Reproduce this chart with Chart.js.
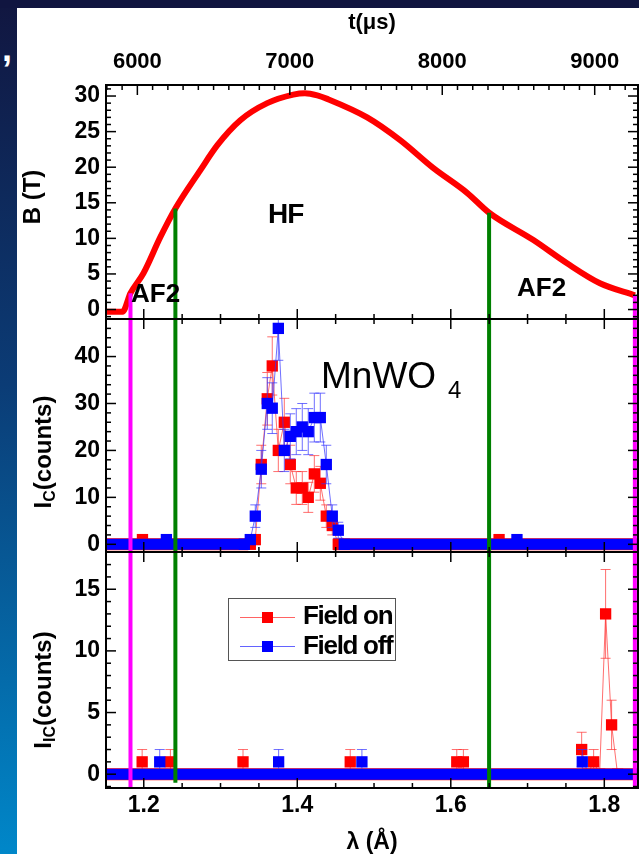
<!DOCTYPE html>
<html lang="en">
<head>
<meta charset="UTF-8">
<title>MnWO4 pulsed field diffraction</title>
<script src="https://cdn.jsdelivr.net/npm/chart.js"></script>
<style>
  html, body { margin: 0; padding: 0; }
  body {
    width: 639px; height: 854px; position: relative; overflow: hidden;
    background: linear-gradient(to bottom, #111640 0%, #0b3c76 45%, #0087c9 100%);
    font-family: 'Liberation Sans', Arial, sans-serif;
  }
  #topband { position: absolute; left: 0; top: 0; width: 639px; height: 8px; background: #101540; }
  #sheet { position: absolute; left: 17px; top: 8px; right: 0; bottom: 0; background: #fff; }
  canvas { position: absolute; left: 0; }
  .lbl { position: absolute; line-height: 1; white-space: nowrap; color: #000; }
  .ytitle {
    position: absolute; font-weight: bold; font-size: 24px; line-height: 1; white-space: nowrap;
    transform: translate(-50%, -50%) rotate(-90deg);
  }
  .ytitle sub { font-size: 16px; vertical-align: -4px; }
  .swatch { position: absolute; }
</style>
</head>
<body>
<div id="topband"></div>
<div id="sheet"></div>
<div class="lbl" style="left:2px;top:31px;font-size:36px;font-weight:bold;color:#fff">,</div>

<canvas id="cB" width="639" height="319" style="top:0"></canvas>
<canvas id="cIc" width="639" height="233" style="top:319px"></canvas>
<canvas id="cIic" width="639" height="302" style="top:552px"></canvas>

<div class="ytitle" style="left:32px;top:197px">B (T)</div>
<div class="ytitle" style="left:44px;top:452px">I<sub>C</sub>(counts)</div>
<div class="ytitle" style="left:44px;top:690px">I<sub>IC</sub>(counts)</div>

<div class="lbl" style="left:268px;top:200px;font-size:28px;font-weight:bold;letter-spacing:-1px">HF</div>
<div class="lbl" style="left:131px;top:280px;font-size:26px;font-weight:bold">AF2</div>
<div class="lbl" style="left:517px;top:274px;font-size:26px;font-weight:bold">AF2</div>
<div class="lbl" style="left:321px;top:357px;font-size:37px">MnWO<span style="font-size:24px;position:relative;top:10px;margin-left:12px">4</span></div>

<div class="swatch" style="left:228px;top:598px;width:166px;height:61px;border:1px solid #555"></div>
<div class="swatch" style="left:240px;top:617px;width:55px;height:1px;background:rgba(255,60,60,0.8)"></div>
<div class="swatch" style="left:262px;top:612px;width:11px;height:11px;background:#ff0000"></div>
<div class="swatch" style="left:240px;top:646px;width:55px;height:1px;background:rgba(60,60,255,0.8)"></div>
<div class="swatch" style="left:262px;top:641px;width:11px;height:11px;background:#0000ff"></div>
<div class="lbl" style="left:303px;top:602px;font-size:26px;font-weight:bold;letter-spacing:-1.3px">Field on</div>
<div class="lbl" style="left:303px;top:632px;font-size:26px;font-weight:bold;letter-spacing:-1.3px">Field off</div>

<script>
// shared wavelength axis (Å) and time-of-flight conversion
const lambdaMin = 1.1508, lambdaMax = 1.8439;
const tPerLambda = 5035; // t(us) = lambda * tPerLambda

const bRange = [-1.33, 31.55];
const icRange = [-1.64, 48.0];
const iicRange = [-1.12, 18.02];

// tick labels
const lambdaTicks = [1.2, 1.4, 1.6, 1.8];
const tTicks = [6000, 7000, 8000, 9000];
const bTicks = [0, 5, 10, 15, 20, 25, 30];
const icTicks = [0, 10, 20, 30, 40];
const iicTicks = [0, 5, 10, 15];

// phase boundaries (magenta / green lines)
const phaseLambda = [1.1827, 1.2412, 1.6499, 1.8398];
const phaseColor = ['#ff00ff', '#008000', '#008000', '#ff00ff'];
const phaseTopB = [2.3, 14.2, 13.6, 2.0];
const phaseEndIic = [-1.3, -0.7, -1.2, -1.3];

// pulsed field B(T)
const bLambda = [1.1508, 1.1723, 1.1827, 1.1996, 1.2217, 1.2412, 1.2738, 1.2959, 1.3258, 1.3609, 1.3948,
  1.4100, 1.4260, 1.4390, 1.4910, 1.5340, 1.5770, 1.6212, 1.6499, 1.7071, 1.7514, 1.7943, 1.8398];
const bField = [-0.3, -0.3, 2.3, 5.1, 10.2, 14.2, 19.6, 23.1, 26.6, 29.0, 30.2,
  30.4, 30.1, 29.6, 27.0, 23.8, 19.9, 16.4, 13.6, 9.8, 6.5, 3.7, 2.0];

// I_C, field on (red) / field off (blue); null breaks the line
const icOnLambda = [1.1983, 1.2100, 1.3388, 1.3453, 1.3531, 1.3609, 1.3674, 1.3753, 1.3831, 1.3909, 1.3987,
  1.4065, 1.4143, 1.4222, 1.4300, 1.4378, 1.4456, 1.4534, 1.5500, 1.6629];
const icOn = [1, null, 0, 1, 17, 31, 38, 20, 26, 17, 12, 12, 10, 15, 13, 6, 4, 0, null, 1];
const icOnErr = [1, 0, 0, 1, 4.1, 5.6, 6.2, 4.5, 5.1, 4.1, 3.5, 3.5, 3.2, 3.9, 3.6, 2.4, 2, 0, 0, 1];

const icOffLambda = [1.2295, 1.2800, 1.3310, 1.3388, 1.3453, 1.3531, 1.3609, 1.3674, 1.3753, 1.3831, 1.3909,
  1.3987, 1.4065, 1.4143, 1.4222, 1.4300, 1.4378, 1.4456, 1.4534, 1.4612, 1.5500, 1.6862];
const icOff = [1, null, 0, 1, 6, 16, 30, 29, 46, 20, 23, 24, 25, 24, 27, 27, 17, 6, 3, 0, null, 1];
const icOffErr = [1, 0, 0, 1, 2.4, 4, 5.5, 5.4, 6.8, 4.5, 4.8, 4.9, 5, 4.9, 5.2, 5.2, 4.1, 2.4, 1.7, 0, 0, 1];

// runs of zero counts (drawn as the thick band at 0)
const icOnZeroFrom = [lambdaMin, 1.4469], icOnZeroTo = [1.3362, lambdaMax];
const icOffZeroFrom = [lambdaMin, 1.4560], icOffZeroTo = [1.3362, lambdaMax];

// I_IC
const iicOnLambda = [1.1979, 1.2150, 1.2347, 1.2800, 1.3293, 1.4000, 1.4690, 1.5400, 1.6078, 1.6164, 1.7000,
  1.7705, 1.7783, 1.7861, 1.7939, 1.8017, 1.8095, 1.8173];
const iicOn = [1, null, 1, null, 1, null, 1, null, 1, 1, null, 2, 0, 1, 0, 13, 4, 0];
const iicOnErr = [1, 0, 1, 0, 1, 0, 1, 0, 1, 1, 0, 1.4, 0, 1, 0, 3.6, 2, 0];

const iicOffLambda = [1.2208, 1.3000, 1.3757, 1.4300, 1.4842, 1.6000, 1.7713];
const iicOff = [1, null, 1, null, 1, null, 1];
const iicOffErr = [1, 0, 1, 0, 1, 0, 1];

const iicZeroFrom = [lambdaMin], iicZeroTo = [lambdaMax];

Chart.defaults.font.family = "'Liberation Sans', Arial, sans-serif";
Chart.defaults.color = '#000';

const pts = (xs, ys) => xs.map((x, i) => ({ x, y: ys[i] }));
const bandPts = (from, to) => {
  const out = [];
  from.forEach((f, i) => {
    if (i) out.push({ x: (to[i - 1] + f) / 2, y: null });
    out.push({ x: f, y: 0 }, { x: to[i], y: 0 });
  });
  return out;
};

// error bars drawn just before their own dataset
const errorBars = {
  id: 'errorBars',
  beforeDatasetDraw(chart, args) {
    const ds = chart.data.datasets[args.index];
    if (!ds.errors) return;
    const { ctx, chartArea: a } = chart;
    const y = chart.scales.y;
    ctx.save();
    ctx.beginPath();
    ctx.rect(a.left, a.top, a.width, a.height);
    ctx.clip();
    ctx.strokeStyle = ds.errorColor;
    ctx.lineWidth = 1;
    args.meta.data.forEach((pt, i) => {
      const v = ds.data[i].y, e = ds.errors[i];
      if (v == null || !e) return;
      const hi = y.getPixelForValue(v + e), lo = y.getPixelForValue(v - e);
      ctx.beginPath();
      ctx.moveTo(pt.x, hi); ctx.lineTo(pt.x, lo);
      ctx.moveTo(pt.x - 5, hi); ctx.lineTo(pt.x + 5, hi);
      ctx.moveTo(pt.x - 5, lo); ctx.lineTo(pt.x + 5, lo);
      ctx.stroke();
    });
    ctx.restore();
  }
};

function tickLoop(scale, step, major, cb) {
  const k0 = Math.ceil(scale.min / step - 1e-6), k1 = Math.floor(scale.max / step + 1e-6);
  const ratio = Math.round(major / step);
  for (let k = k0; k <= k1; k++) cb(scale.getPixelForValue(k * step), k % ratio === 0);
}

// frame with inward major/minor ticks on all four sides
const frameTicks = {
  id: 'frameTicks',
  afterDraw(chart, args, opts) {
    const { ctx, chartArea: a, scales } = chart;
    ctx.save();
    ctx.strokeStyle = '#000';
    ctx.lineWidth = 1.5;
    const xTicks = (scale, step, major, yEdge, dir) => tickLoop(scale, step, major, (px, isMajor) => {
      ctx.beginPath(); ctx.moveTo(px, yEdge); ctx.lineTo(px, yEdge + dir * (isMajor ? 10 : 5)); ctx.stroke();
    });
    const yTicks = (xEdge, dir) => tickLoop(scales.y, opts.yMinor, opts.yMajor, (py, isMajor) => {
      ctx.beginPath(); ctx.moveTo(xEdge, py); ctx.lineTo(xEdge + dir * (isMajor ? 10 : 5), py); ctx.stroke();
    });
    xTicks(scales.x, 0.05, 0.2, a.bottom, -1);
    if (opts.top === 't') xTicks(scales.xt, 100, 1000, a.top, 1);
    else xTicks(scales.x, 0.05, 0.2, a.top, 1);
    yTicks(a.left, 1);
    yTicks(a.right, -1);
    ctx.lineWidth = 2;
    ctx.strokeRect(a.left, a.top, a.width, a.height);
    ctx.restore();
  }
};

const pin = (w, h) => scale => {
  if (w != null) scale.width = w;
  if (h != null) scale.height = h;
  scale.paddingTop = scale.paddingBottom = scale.paddingLeft = scale.paddingRight = 0;
};
const fixedTicks = values => scale => { scale.ticks = values.map(value => ({ value })); };

const yScale = (range, values) => ({
  type: 'linear', min: range[0], max: range[1], afterFit: pin(106, null), afterBuildTicks: fixedTicks(values),
  grid: { display: false, drawTicks: false }, border: { display: false },
  ticks: { padding: 6, autoSkip: false, font: { size: 23, weight: 'bold' }, callback: v => String(v) }
});
const hiddenX = { type: 'linear', min: lambdaMin, max: lambdaMax, display: false, afterFit: pin(null, null) };

const phaseSets = (tops, bottoms) => phaseLambda.map((l, i) => ({
  data: [{ x: l, y: tops[i] }, { x: l, y: bottoms[i] }],
  borderColor: phaseColor[i], borderWidth: 4, pointRadius: 0
}));
const band = (from, to, color, width) => ({
  data: bandPts(from, to), borderColor: color, borderWidth: width, pointRadius: 0
});
const series = (data, errors, color, lineColor) => ({
  data, errors, errorColor: lineColor, borderColor: lineColor, borderWidth: 1,
  pointStyle: 'rect', pointRadius: 8, pointHoverRadius: 8, pointBorderWidth: 0,
  pointBackgroundColor: color, spanGaps: false
});

const RED = '#ff0000', BLUE = '#0000ff';
const RED_LINE = 'rgba(255,50,50,0.7)', BLUE_LINE = 'rgba(50,50,255,0.7)';

function panel(id, datasets, scales, frame) {
  return new Chart(document.getElementById(id), {
    type: 'line',
    data: { datasets },
    options: {
      responsive: false, animation: false, devicePixelRatio: 1, events: [],
      layout: { autoPadding: false, padding: { left: 0, right: 1, top: 0, bottom: 0 } },
      plugins: { legend: { display: false }, tooltip: { enabled: false }, frameTicks: frame },
      scales
    },
    plugins: [errorBars, frameTicks]
  });
}

// top: field pulse
panel('cB', [
  ...phaseSets(phaseTopB, phaseLambda.map(() => bRange[0])),
  { data: pts(bLambda, bField), borderColor: RED, borderWidth: 6, pointRadius: 0, cubicInterpolationMode: 'monotone' }
], {
  x: hiddenX,
  xt: {
    type: 'linear', position: 'top', min: lambdaMin * tPerLambda, max: lambdaMax * tPerLambda,
    afterFit: pin(null, 85), afterBuildTicks: fixedTicks(tTicks),
    grid: { display: false, drawTicks: false }, border: { display: false },
    ticks: { padding: 10, maxRotation: 0, autoSkip: false, font: { size: 22, weight: 'bold' }, callback: v => String(v) },
    title: { display: true, text: 't(μs)', font: { size: 22, weight: 'bold', lineHeight: 1 }, padding: { top: 12, bottom: 0 } }
  },
  y: yScale(bRange, bTicks)
}, { top: 't', yMinor: 1, yMajor: 5 });

// middle: I_C
panel('cIc', [
  ...phaseSets(phaseLambda.map(() => icRange[1]), phaseLambda.map(() => icRange[0])),
  band(icOffZeroFrom, icOffZeroTo, BLUE, 11),
  series(pts(icOffLambda, icOff), icOffErr, BLUE, BLUE_LINE),
  band(icOnZeroFrom, icOnZeroTo, RED, 12),
  series(pts(icOnLambda, icOn), icOnErr, RED, RED_LINE)
], {
  x: hiddenX,
  y: yScale(icRange, icTicks)
}, { yMinor: 2, yMajor: 10 });

// bottom: I_IC
panel('cIic', [
  ...phaseSets(phaseLambda.map(() => iicRange[1]), phaseEndIic),
  band(iicZeroFrom, iicZeroTo, BLUE, 11),
  series(pts(iicOffLambda, iicOff), iicOffErr, BLUE, BLUE_LINE),
  band(iicZeroFrom, iicZeroTo, RED, 12),
  series(pts(iicOnLambda, iicOn), iicOnErr, RED, RED_LINE)
], {
  x: {
    type: 'linear', min: lambdaMin, max: lambdaMax, afterFit: pin(null, 66), afterBuildTicks: fixedTicks(lambdaTicks),
    grid: { display: false, drawTicks: false }, border: { display: false },
    ticks: { padding: 4, maxRotation: 0, autoSkip: false, font: { size: 23, weight: 'bold' }, callback: v => v.toFixed(1) },
    title: { display: true, text: 'λ (Å)', font: { size: 23, weight: 'bold', lineHeight: 1 }, padding: { top: 0, bottom: 0 } }
  },
  y: yScale(iicRange, iicTicks)
}, { yMinor: 1, yMajor: 5 });
</script>
</body>
</html>
